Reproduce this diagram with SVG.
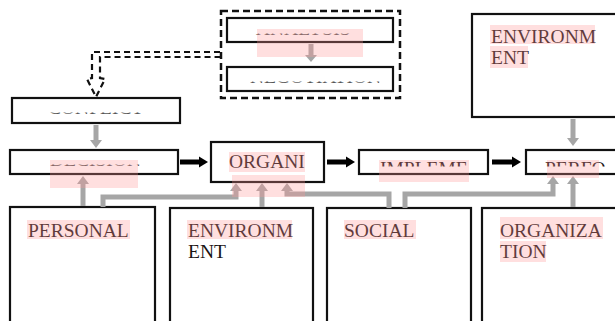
<svg xmlns="http://www.w3.org/2000/svg" width="615" height="321" viewBox="0 0 615 321">
<style>
.box{fill:#fff;stroke:#111;stroke-width:2.2}
.t{font-family:"Liberation Serif","Times New Roman",serif;font-size:19.5px;fill:#1a1414}
.c{fill:#555}
.g{stroke:#a6a6a6;stroke-width:5;fill:none}
.gh{fill:#a6a6a6}
.k{stroke:#000;stroke-width:5;fill:none}
.kh{fill:#000}
.hl{fill:#ff9696;fill-opacity:0.3}
</style>
<defs>
<clipPath id="cConf"><rect x="12" y="112.5" width="168" height="1.6"/></clipPath>
<clipPath id="cDec"><rect x="10" y="164.5" width="168" height="1.6"/></clipPath>
<clipPath id="cTop1"><rect x="227" y="33.5" width="166" height="1.6"/></clipPath>
<clipPath id="cTop2"><rect x="227" y="81.5" width="166" height="1.6"/></clipPath>
<clipPath id="cImp"><rect x="359" y="162" width="129" height="4.5"/></clipPath>
<clipPath id="cPer"><rect x="526" y="162" width="89" height="4.5"/></clipPath>
</defs>

<g id="dashed-group">
<rect x="221" y="11" width="179" height="87" fill="none" stroke="#111" stroke-width="2.5" stroke-dasharray="7 4"/>
</g>
<g id="node-top1">
<rect class="box" x="227" y="18" width="166" height="24"/>
<text class="t c" x="256" y="35" clip-path="url(#cTop1)">ANALYSIS</text>
</g>
<g id="node-top2">
<rect class="box" x="227" y="67" width="166" height="24"/>
<text class="t c" x="250" y="83" clip-path="url(#cTop2)">NEGOTIATION</text>
</g>
<g id="node-conflict">
<rect class="box" x="12" y="98" width="168" height="25"/>
<text class="t c" x="48" y="114" clip-path="url(#cConf)">CONFLICT</text>
</g>
<g id="node-decision">
<rect class="box" x="10" y="150" width="168" height="24"/>
<text class="t c" x="50" y="166" clip-path="url(#cDec)">DECISION</text>
</g>
<g id="node-organi">
<rect class="box" x="211" y="142" width="113" height="40"/>
<text class="t" x="229" y="168">ORGANI</text>
</g>
<g id="node-impleme">
<rect class="box" x="359" y="150" width="129" height="24"/>
<text class="t" x="380" y="175" clip-path="url(#cImp)">IMPLEME</text>
</g>
<g id="node-perfo">
<rect class="box" x="526" y="150" width="95" height="24"/>
<text class="t" x="545" y="175" clip-path="url(#cPer)">PERFO</text>
</g>
<g id="node-env-top">
<rect class="box" x="472" y="14" width="150" height="103"/>
<text class="t" x="491" y="43">ENVIRONM</text>
<text class="t" x="491" y="64">ENT</text>
</g>
<g id="node-personal">
<rect class="box" x="10" y="207" width="145" height="130"/>
<text class="t" x="28" y="237">PERSONAL</text>
</g>
<g id="node-environment">
<rect class="box" x="170" y="208" width="143" height="130"/>
<text class="t" x="188" y="237">ENVIRONM</text>
<text class="t" x="188" y="258">ENT</text>
</g>
<g id="node-social">
<rect class="box" x="327" y="208" width="144" height="130"/>
<text class="t" x="344" y="237">SOCIAL</text>
</g>
<g id="node-organization">
<rect class="box" x="482" y="208" width="140" height="130"/>
<text class="t" x="500" y="237">ORGANIZA</text>
<text class="t" x="500" y="258">TION</text>
</g>

<g id="connectors">
<path d="M220,52 H92 V78 L87,79 L96,97 L105,79 L100,78 V57 H220" fill="none" stroke="#111" stroke-width="2.2" stroke-dasharray="6 4"/>
<line class="g" x1="311" y1="44" x2="311" y2="56"/><polygon class="gh" points="305,55 317,55 311,62"/>
<line class="g" x1="96" y1="125" x2="96" y2="141"/><polygon class="gh" points="90,140 102,140 96,148"/>
<line class="g" x1="573" y1="119" x2="573" y2="139"/><polygon class="gh" points="567,138 579,138 573,146"/>
<line class="g" x1="83" y1="206" x2="83" y2="183"/><polygon class="gh" points="77,184 89,184 83,176"/>
<polyline class="g" points="103,207 103,197 236,197 236,190"/><polygon class="gh" points="230,191 242,191 236,183"/>
<line class="g" x1="262" y1="207" x2="262" y2="190"/><polygon class="gh" points="256,191 268,191 262,183"/>
<polyline class="g" points="389,208 389,194 287,194 287,190"/><polygon class="gh" points="281,191 293,191 287,183"/>
<polyline class="g" points="405,208 405,194 553,194 553,183"/><polygon class="gh" points="547,184 559,184 553,176"/>
<line class="g" x1="573" y1="207" x2="573" y2="183"/><polygon class="gh" points="567,184 579,184 573,176"/>
<line class="k" x1="180" y1="162" x2="200" y2="162"/><polygon class="kh" points="199,156.5 208,162 199,167.5"/>
<line class="k" x1="327" y1="162" x2="347" y2="162"/><polygon class="kh" points="346,156.5 355,162 346,167.5"/>
<line class="k" x1="492" y1="162" x2="513" y2="162"/><polygon class="kh" points="512,156.5 521,162 512,167.5"/>
</g>

<g id="highlights">
<rect class="hl" x="257" y="29" width="106" height="28"/>
<rect class="hl" x="50" y="160" width="88" height="28"/>
<rect class="hl" x="229" y="152" width="76" height="20"/>
<rect class="hl" x="232" y="175" width="73" height="22"/>
<rect class="hl" x="379" y="160" width="90" height="22"/>
<rect class="hl" x="547" y="160" width="52" height="18"/>
<rect class="hl" x="490" y="25" width="105" height="19"/>
<rect class="hl" x="490" y="46" width="38" height="22"/>
<rect class="hl" x="27" y="220" width="103" height="19"/>
<rect class="hl" x="187" y="220" width="105" height="19"/>
<rect class="hl" x="344" y="220" width="72" height="19"/>
<rect class="hl" x="500" y="217" width="103" height="22"/>
<rect class="hl" x="500" y="241" width="46" height="21"/>
</g>
</svg>
